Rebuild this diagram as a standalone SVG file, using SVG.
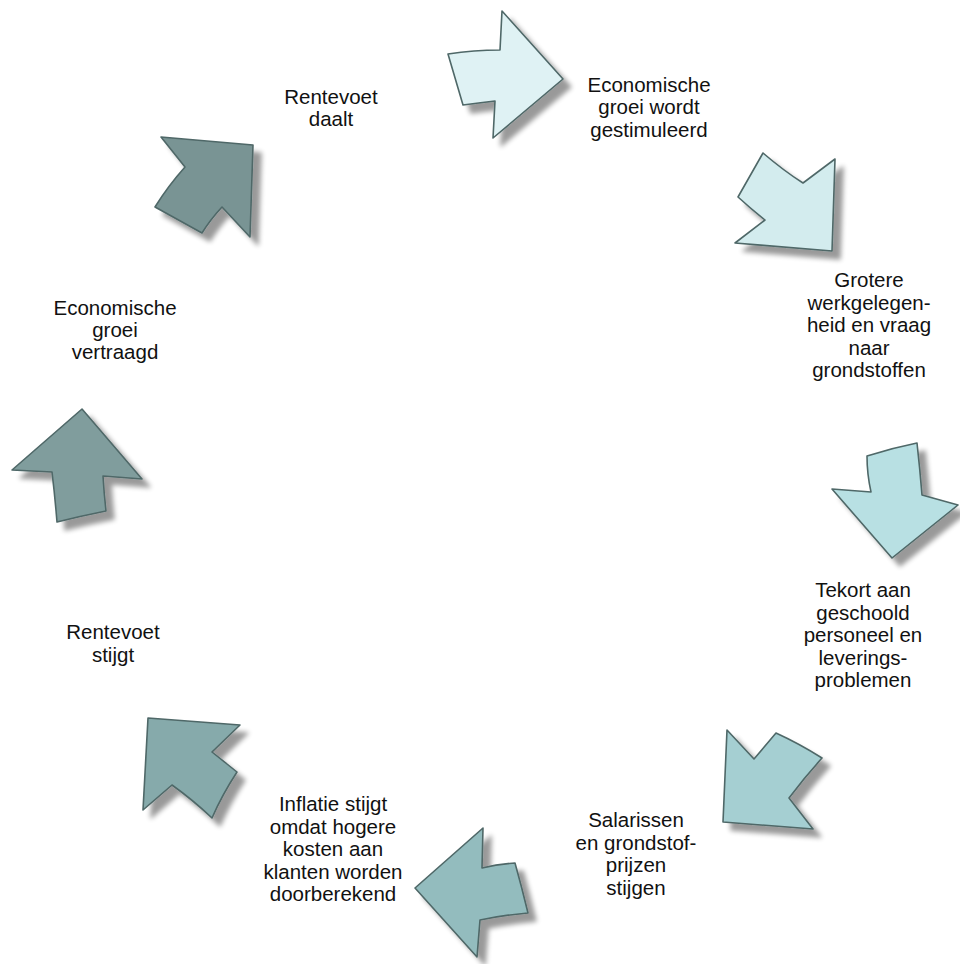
<svg xmlns="http://www.w3.org/2000/svg" width="960" height="964" viewBox="0 0 960 964">
<defs>
<filter id="sh" x="-20%" y="-20%" width="150%" height="150%">
<feGaussianBlur in="SourceAlpha" stdDeviation="2.5" result="b"/>
<feOffset in="b" dx="8" dy="8" result="o"/>
<feComponentTransfer in="o" result="s"><feFuncA type="linear" slope="0.4"/></feComponentTransfer>
<feMerge><feMergeNode in="s"/><feMergeNode in="SourceGraphic"/></feMerge>
</filter>
</defs>
<style>
.a{stroke:#4f6868;stroke-width:1.6;stroke-linejoin:round;filter:url(#sh)}
.t{font-family:"Liberation Sans",Arial,sans-serif;font-size:20.5px;fill:#111111;text-anchor:middle}
</style>
<rect width="960" height="964" fill="#ffffff"/>
<g id="connectors">
<path id="arrow1" class="a" fill="#dff2f4" d="M448,54 Q474,50 500,50 L502,11 L563,79 L493,138 L495,101 Q478,103 463,105 Z"/>
<path id="arrow2" class="a" fill="#d3ecee" d="M763,153 Q784,171 803,183 L835,159 L832,251 L735,243 L765,220 Q750,208 738,197 Z"/>
<path id="arrow3" class="a" fill="#b8e0e3" d="M867,456 Q892,448 917,443 Q920,470 922,495 L958,505 L892,558 L832,489 L871,492 Q867,474 867,456 Z"/>
<path id="arrow4" class="a" fill="#a5cfd2" d="M727,730 L754,759 L776,733 Q800,744 822,758 Q804,778 789,798 L813,829 L723,822 Z"/>
<path id="arrow5" class="a" fill="#93bcbe" d="M415,888 L483,828 L482,868 Q498,864 515,863 Q522,888 528,913 Q504,915 480,920 L477,957 Z"/>
<path id="arrow6" class="a" fill="#86aaab" d="M148,718 L240,725 L212,752 L237,772 Q222,795 212,818 Q193,800 172,785 L143,810 Z"/>
<path id="arrow7" class="a" fill="#809d9d" d="M82,409 L142,479 L103,476 Q104,493 106,511 Q81,516 57,522 Q55,497 52,472 L12,470 Z"/>
<path id="arrow8" class="a" fill="#799494" d="M161,137 L253,145 L250,237 L222,207 Q210,220 202,233 L155,207 Q168,186 185,167 Z"/>
</g>
<g id="node-rentevoet-daalt"><text class="t" x="331" y="104">Rentevoet</text><text class="t" x="331" y="126">daalt</text></g>
<g id="node-economische-groei-gestimuleerd"><text class="t" x="649" y="91.5">Economische</text><text class="t" x="649" y="114">groei wordt</text><text class="t" x="649" y="136.5">gestimuleerd</text></g>
<g id="node-grotere-werkgelegenheid"><text class="t" x="869" y="287">Grotere</text><text class="t" x="869" y="309.5">werkgelegen-</text><text class="t" x="869" y="332">heid en vraag</text><text class="t" x="869" y="354.5">naar</text><text class="t" x="869" y="377">grondstoffen</text></g>
<g id="node-tekort"><text class="t" x="863" y="597">Tekort aan</text><text class="t" x="863" y="619.5">geschoold</text><text class="t" x="863" y="642">personeel en</text><text class="t" x="863" y="664.5">leverings-</text><text class="t" x="863" y="687">problemen</text></g>
<g id="node-salarissen"><text class="t" x="636" y="827">Salarissen</text><text class="t" x="636" y="849.5">en grondstof-</text><text class="t" x="636" y="872">prijzen</text><text class="t" x="636" y="894.5">stijgen</text></g>
<g id="node-inflatie"><text class="t" x="333" y="811">Inflatie stijgt</text><text class="t" x="333" y="833.5">omdat hogere</text><text class="t" x="333" y="856">kosten aan</text><text class="t" x="333" y="878.5">klanten worden</text><text class="t" x="333" y="901">doorberekend</text></g>
<g id="node-rentevoet-stijgt"><text class="t" x="113" y="639">Rentevoet</text><text class="t" x="113" y="661.5">stijgt</text></g>
<g id="node-economische-groei-vertraagd"><text class="t" x="115" y="315">Economische</text><text class="t" x="115" y="337">groei</text><text class="t" x="115" y="359">vertraagd</text></g>
</svg>
